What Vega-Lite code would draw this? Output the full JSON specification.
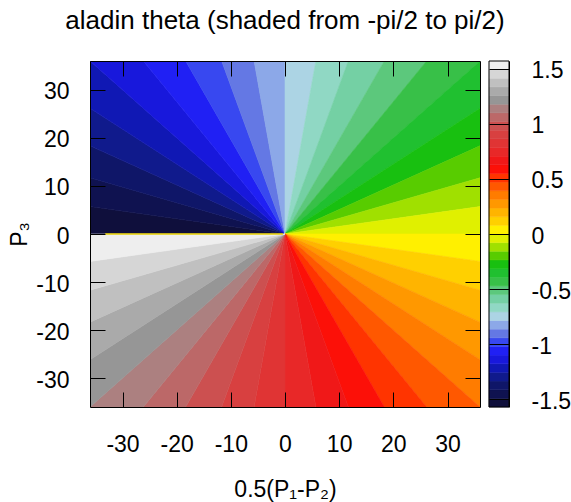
{
  "$schema": "https://vega.github.io/schema/vega-lite/v6.json",
  "background": "white",
  "padding": {"left": 8, "top": 7, "right": 2, "bottom": 2},
  "config": {
    "view": {"stroke": null},
    "font": "Liberation Sans",
    "axis": {"grid": false, "labelFont": "Liberation Sans", "titleFont": "Liberation Sans", "labelColor": "black", "titleColor": "black", "domainColor": "black", "tickColor": "black", "domainWidth": 1, "tickWidth": 1, "labelFontSize": 23, "titleFontSize": 23, "titleFontWeight": "normal"}
  },
  "datasets": {
    "levels": [
      {"k": 0, "a0": 270, "a1": 277.998, "v0": -1.5708, "v1": -1.4923, "c": "#0f0f3c"},
      {"k": 1, "a0": 277.998, "a1": 286.08, "v0": -1.4923, "v1": -1.4137, "c": "#0f1250"},
      {"k": 2, "a0": 286.08, "a1": 294.325, "v0": -1.4137, "v1": -1.3352, "c": "#0f1668"},
      {"k": 3, "a0": 294.325, "a1": 302.804, "v0": -1.3352, "v1": -1.2566, "c": "#101a8c"},
      {"k": 4, "a0": 302.804, "a1": 311.578, "v0": -1.2566, "v1": -1.1781, "c": "#1018b4"},
      {"k": 5, "a0": 311.578, "a1": 320.683, "v0": -1.1781, "v1": -1.0996, "c": "#1818dc"},
      {"k": 6, "a0": 320.683, "a1": 330.129, "v0": -1.0996, "v1": -1.021, "c": "#2020f4"},
      {"k": 7, "a0": 330.129, "a1": 339.883, "v0": -1.021, "v1": -0.9425, "c": "#3848f0"},
      {"k": 8, "a0": 339.883, "a1": 349.878, "v0": -0.9425, "v1": -0.8639, "c": "#6478e4"},
      {"k": 9, "a0": 349.878, "a1": 360, "v0": -0.8639, "v1": -0.7854, "c": "#8ca8e8"},
      {"k": 10, "a0": 0, "a1": 10.122, "v0": -0.7854, "v1": -0.7069, "c": "#acd4e4"},
      {"k": 11, "a0": 10.122, "a1": 20.117, "v0": -0.7069, "v1": -0.6283, "c": "#90d8c4"},
      {"k": 12, "a0": 20.117, "a1": 29.871, "v0": -0.6283, "v1": -0.5498, "c": "#74d0a4"},
      {"k": 13, "a0": 29.871, "a1": 39.317, "v0": -0.5498, "v1": -0.4712, "c": "#5cc87c"},
      {"k": 14, "a0": 39.317, "a1": 48.422, "v0": -0.4712, "v1": -0.3927, "c": "#38c048"},
      {"k": 15, "a0": 48.422, "a1": 57.196, "v0": -0.3927, "v1": -0.3142, "c": "#20c030"},
      {"k": 16, "a0": 57.196, "a1": 65.675, "v0": -0.3142, "v1": -0.2356, "c": "#18c010"},
      {"k": 17, "a0": 65.675, "a1": 73.92, "v0": -0.2356, "v1": -0.1571, "c": "#58cc00"},
      {"k": 18, "a0": 73.92, "a1": 82.002, "v0": -0.1571, "v1": -0.0785, "c": "#a0e000"},
      {"k": 19, "a0": 82.002, "a1": 90, "v0": -0.0785, "v1": 0, "c": "#e0f000"},
      {"k": 20, "a0": 90, "a1": 97.998, "v0": 0, "v1": 0.0785, "c": "#fff000"},
      {"k": 21, "a0": 97.998, "a1": 106.08, "v0": 0.0785, "v1": 0.1571, "c": "#ffd000"},
      {"k": 22, "a0": 106.08, "a1": 114.325, "v0": 0.1571, "v1": 0.2356, "c": "#ffb400"},
      {"k": 23, "a0": 114.325, "a1": 122.804, "v0": 0.2356, "v1": 0.3142, "c": "#ff9800"},
      {"k": 24, "a0": 122.804, "a1": 131.578, "v0": 0.3142, "v1": 0.3927, "c": "#ff7c00"},
      {"k": 25, "a0": 131.578, "a1": 140.683, "v0": 0.3927, "v1": 0.4712, "c": "#ff5800"},
      {"k": 26, "a0": 140.683, "a1": 150.129, "v0": 0.4712, "v1": 0.5498, "c": "#ff3400"},
      {"k": 27, "a0": 150.129, "a1": 159.883, "v0": 0.5498, "v1": 0.6283, "c": "#fc1008"},
      {"k": 28, "a0": 159.883, "a1": 169.878, "v0": 0.6283, "v1": 0.7069, "c": "#f01818"},
      {"k": 29, "a0": 169.878, "a1": 180, "v0": 0.7069, "v1": 0.7854, "c": "#e82828"},
      {"k": 30, "a0": 180, "a1": 190.122, "v0": 0.7854, "v1": 0.8639, "c": "#e03434"},
      {"k": 31, "a0": 190.122, "a1": 200.117, "v0": 0.8639, "v1": 0.9425, "c": "#d84040"},
      {"k": 32, "a0": 200.117, "a1": 209.871, "v0": 0.9425, "v1": 1.021, "c": "#cc5050"},
      {"k": 33, "a0": 209.871, "a1": 219.317, "v0": 1.021, "v1": 1.0996, "c": "#bc6868"},
      {"k": 34, "a0": 219.317, "a1": 228.422, "v0": 1.0996, "v1": 1.1781, "c": "#ac8080"},
      {"k": 35, "a0": 228.422, "a1": 237.196, "v0": 1.1781, "v1": 1.2566, "c": "#969696"},
      {"k": 36, "a0": 237.196, "a1": 245.675, "v0": 1.2566, "v1": 1.3352, "c": "#aaaaaa"},
      {"k": 37, "a0": 245.675, "a1": 253.92, "v0": 1.3352, "v1": 1.4137, "c": "#c0c0c0"},
      {"k": 38, "a0": 253.92, "a1": 262.002, "v0": 1.4137, "v1": 1.4923, "c": "#d6d6d6"},
      {"k": 39, "a0": 262.002, "a1": 270, "v0": 1.4923, "v1": 1.5708, "c": "#eeeeee"}
    ]
  },
  "bounds": "flush",
  "spacing": 9,
  "hconcat": [
    {
      "width": 390,
      "height": 346,
      "title": {"text": "aladin theta (shaded from -pi/2 to pi/2)", "fontSize": 26, "fontWeight": "normal", "font": "Liberation Sans", "color": "black", "anchor": "middle", "offset": 27},
      "resolve": {"axis": {"x": "independent", "y": "independent"}},
      "layer": [
        {
          "data": {"name": "levels"},
          "mark": {"type": "arc", "radius": 320, "clip": true, "strokeWidth": 0.6},
          "encoding": {
            "x": {"datum": 0, "type": "quantitative", "scale": {"domain": [-36, 36], "nice": false, "zero": false}, "axis": {"orient": "top", "values": [-30, -20, -10, 0, 10, 20, 30], "labels": false, "title": null, "tickSize": -15, "zindex": 1}},
            "y": {"datum": 0, "type": "quantitative", "scale": {"domain": [-36, 36], "nice": false, "zero": false}, "axis": {"orient": "right", "values": [-30, -20, -10, 0, 10, 20, 30], "labels": false, "title": null, "tickSize": -15, "zindex": 1}},
            "theta": {"field": "a0", "type": "quantitative", "scale": {"domain": [0, 360], "range": [0, 6.283185307179586]}, "stack": null},
            "theta2": {"field": "a1"},
            "fill": {"field": "c", "type": "nominal", "scale": null, "legend": null},
            "stroke": {"field": "c", "type": "nominal", "scale": null, "legend": null}
          }
        },
        {
          "data": {"values": [{"x0": -33.2, "x1": -0.4, "y": 0}]},
          "mark": {"type": "rule", "color": "#e8d000", "strokeWidth": 1.4},
          "encoding": {
            "x": {"field": "x0", "type": "quantitative", "scale": {"domain": [-36, 36], "nice": false, "zero": false}, "axis": {"orient": "bottom", "values": [-30, -20, -10, 0, 10, 20, 30], "tickSize": -15, "labelPadding": 41, "labelExpr": "(datum.value < 0 ? '-' : '\u00a0') + abs(datum.value)", "title": "0.5(P₁-P₂)", "titlePadding": 22, "zindex": 1}},
            "x2": {"field": "x1"},
            "y": {"field": "y", "type": "quantitative", "scale": {"domain": [-36, 36], "nice": false, "zero": false}, "axis": {"orient": "left", "values": [-30, -20, -10, 0, 10, 20, 30], "tickSize": -15, "labelPadding": 36, "labelOffset": 2, "labelExpr": "(datum.value < 0 ? '-' : '\u00a0') + abs(datum.value)", "title": "P₃", "titlePadding": 4, "zindex": 1}}
          }
        }
      ]
    },
    {
      "width": 20,
      "height": 346,
      "layer": [
        {
          "data": {"name": "levels"},
          "mark": {"type": "rect", "strokeWidth": 0.5},
          "encoding": {
            "y": {"field": "v0", "type": "quantitative", "scale": {"domain": [-1.5708, 1.5708], "nice": false, "zero": false}, "axis": {"orient": "right", "values": [-1.5, -1, -0.5, 0, 0.5, 1, 1.5], "tickSize": -20, "labelPadding": 42, "labelAlign": "left", "labelOffset": 2, "labelExpr": "(datum.value < 0 ? '-' : '\u00a0') + abs(datum.value)", "title": null, "zindex": 1}},
            "y2": {"field": "v1"},
            "fill": {"field": "c", "type": "nominal", "scale": null, "legend": null},
            "stroke": {"field": "c", "type": "nominal", "scale": null, "legend": null}
          }
        },
        {
          "data": {"values": [{"lo": -1.5708, "hi": 1.5708}]},
          "mark": {"type": "rect", "fill": "white", "fillOpacity": 0, "stroke": "black", "strokeWidth": 1},
          "encoding": {
            "y": {"field": "lo", "type": "quantitative"},
            "y2": {"field": "hi"}
          }
        }
      ]
    }
  ]
}
